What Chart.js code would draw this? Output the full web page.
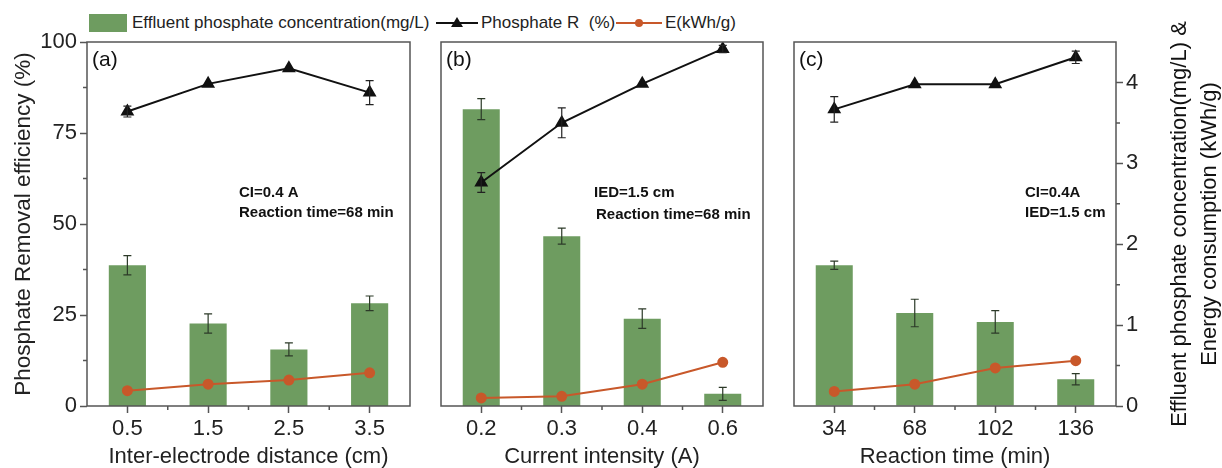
<!DOCTYPE html>
<html>
<head>
<meta charset="utf-8">
<script src="https://cdn.jsdelivr.net/npm/chart.js@4.4.0/dist/chart.umd.min.js"></script>
<style>
  body { margin: 0; background: #fff; }
  #wrap { position: relative; width: 1222px; height: 468px; overflow: hidden; font-family: "Liberation Sans", Arial, sans-serif; }
  #wrap canvas { position: absolute; top: 0; }
  .lg { position: absolute; top: 14px; height: 18px; line-height: 18px; font-size: 17px; color: #222; white-space: pre; }
  .sw { position: absolute; top: 14px; width: 38px; height: 18px; background: #6e9c60; }
  .mk { position: absolute; top: 13px; }
</style>
</head>
<body>
<div id="wrap">
  <span class="sw" style="left:89px"></span>
  <span class="lg" style="left:132px">Effluent phosphate concentration(mg/L)</span>
  <svg class="mk" style="left:436px" width="42" height="20"><line x1="0" y1="10" x2="42" y2="10" stroke="#111" stroke-width="2"/><polygon points="21,4 27,14 15,14" fill="#111"/></svg>
  <span class="lg" style="left:481px">Phosphate R  (%)</span>
  <svg class="mk" style="left:616px" width="46" height="20"><line x1="0" y1="10" x2="46" y2="10" stroke="#c8582a" stroke-width="2"/><circle cx="23" cy="10" r="4" fill="#c8582a"/></svg>
  <span class="lg" style="left:665px">E(kWh/g)</span>
  <canvas id="panelA" width="425" height="468" style="left:0px"></canvas>
  <canvas id="panelB" width="355" height="468" style="left:425px"></canvas>
  <canvas id="panelC" width="442" height="468" style="left:780px"></canvas>
</div>
<script>
// categories
const distanceLabels = ["0.5", "1.5", "2.5", "3.5"];
const currentLabels = ["0.2", "0.3", "0.4", "0.6"];
const timeLabels = ["34", "68", "102", "136"];

// (a) inter-electrode distance
const concA = [1.74, 1.02, 0.70, 1.27];
const concAErr = [0.12, 0.12, 0.08, 0.09];
const removalA = [80.9, 88.5, 92.8, 86.1];
const removalAErr = [1.5, 0, 0, 3.3];
const energyA = [0.19, 0.27, 0.32, 0.41];

// (b) current intensity
const concB = [3.67, 2.10, 1.08, 0.15];
const concBErr = [0.13, 0.10, 0.12, 0.08];
const removalB = [61.4, 77.8, 88.5, 98.1];
const removalBErr = [2.7, 4.1, 0, 1.0];
const energyB = [0.10, 0.12, 0.27, 0.54];

// (c) reaction time
const concC = [1.74, 1.15, 1.04, 0.33];
const concCErr = [0.05, 0.17, 0.14, 0.07];
const removalC = [81.5, 88.4, 88.4, 95.8];
const removalCErr = [3.5, 0, 0, 1.7];
const energyC = [0.18, 0.27, 0.47, 0.56];

// tick labels
const leftTicks = [0, 25, 50, 75, 100];
const rightTicks = [0, 1, 2, 3, 4];

const FONT = "'Liberation Sans', Arial, sans-serif";
const GREEN = "#6e9c60";
const ORANGE = "#c8582a";
const AXIS = "#555";

// error bars, frame, minor ticks and notes
const decor = {
  id: "decor",
  afterDatasetsDraw(chart) {
    const ctx = chart.ctx;
    chart.data.datasets.forEach((ds, i) => {
      if (!ds.errors) return;
      const meta = chart.getDatasetMeta(i);
      const scale = chart.scales[ds.yAxisID];
      ctx.save();
      ctx.strokeStyle = ds.errorColor;
      ctx.lineWidth = 1.2;
      meta.data.forEach((el, j) => {
        const e = ds.errors[j];
        if (!e) return;
        const top = scale.getPixelForValue(ds.data[j] + e);
        const bot = scale.getPixelForValue(ds.data[j] - e);
        ctx.beginPath();
        ctx.moveTo(el.x, top); ctx.lineTo(el.x, bot);
        ctx.moveTo(el.x - 4, top); ctx.lineTo(el.x + 4, top);
        ctx.moveTo(el.x - 4, bot); ctx.lineTo(el.x + 4, bot);
        ctx.stroke();
      });
      ctx.restore();
    });
  },
  afterDraw(chart, args, opts) {
    const ctx = chart.ctx;
    const a = chart.chartArea;
    ctx.save();
    ctx.strokeStyle = AXIS;
    ctx.lineWidth = 1.5;
    ctx.strokeRect(a.left, a.top, a.width, a.height);

    // minor ticks on x
    const xs = chart.scales.x;
    ctx.beginPath();
    for (let j = 0; j < chart.data.labels.length - 1; j++) {
      const x = (xs.getPixelForValue(j) + xs.getPixelForValue(j + 1)) / 2;
      ctx.moveTo(x, a.bottom); ctx.lineTo(x, a.bottom + 4);
    }
    if (opts.minorLeft) {
      opts.minorLeft.forEach(v => {
        const y = chart.scales.y.getPixelForValue(v);
        ctx.moveTo(a.left, y); ctx.lineTo(a.left - 4, y);
      });
    }
    if (opts.minorRight) {
      opts.minorRight.forEach(v => {
        const y = chart.scales.y1.getPixelForValue(v);
        ctx.moveTo(a.right, y); ctx.lineTo(a.right + 4, y);
      });
    }
    ctx.stroke();

    // panel label and notes
    ctx.fillStyle = "#111";
    ctx.textBaseline = "middle";
    ctx.textAlign = "left";
    ctx.font = "21px " + FONT;
    ctx.fillText(opts.tag, a.left + 5, a.top + 18);
    ctx.font = "bold 15px " + FONT;
    opts.notes.forEach(n => ctx.fillText(n.text, a.left + n.dx, a.top + n.dy));

    // right axis title, reading upwards
    if (opts.rightTitle) {
      ctx.font = "22px " + FONT;
      ctx.textAlign = "center";
      const cy = (a.top + a.bottom) / 2;
      opts.rightTitle.forEach((t, k) => {
        ctx.save();
        ctx.translate(a.right + 64 + k * 30, cy);
        ctx.rotate(-Math.PI / 2);
        ctx.fillText(t, 0, 0);
        ctx.restore();
      });
    }
    ctx.restore();
  },
};

// fixed axis sizes, only for axes that are shown
function fixWidth(w) {
  return (s) => { if (s.options.display) s.width = w; };
}

function makeConfig(labels, conc, concErr, removal, removalErr, energy, xTitle, extra) {
  return {
    type: "bar",
    data: {
      labels: labels,
      datasets: [
        {
          type: "line",
          label: "Phosphate R (%)",
          data: removal,
          errors: removalErr,
          errorColor: "#222",
          yAxisID: "y",
          borderColor: "#111",
          backgroundColor: "#111",
          borderWidth: 2,
          pointStyle: "triangle",
          pointRadius: 6,
          order: 0,
        },
        {
          type: "line",
          label: "E(kWh/g)",
          data: energy,
          yAxisID: "y1",
          borderColor: ORANGE,
          backgroundColor: ORANGE,
          borderWidth: 2,
          pointRadius: 4.5,
          order: 1,
        },
        {
          label: "Effluent phosphate concentration(mg/L)",
          data: conc,
          errors: concErr,
          errorColor: "#2c3a28",
          yAxisID: "y1",
          backgroundColor: GREEN,
          barPercentage: 0.46,
          categoryPercentage: 1,
          order: 2,
        },
      ],
    },
    options: {
      responsive: false,
      animation: false,
      layout: { padding: extra.padding },
      plugins: {
        legend: { display: false },
        tooltip: { enabled: false },
        decor: extra.decor,
      },
      scales: {
        x: {
          offset: true,
          afterFit: (s) => { s.height = 62; },
          grid: { offset: false, drawOnChartArea: false, tickLength: 7, tickColor: AXIS, tickWidth: 1.5 },
          border: { display: false },
          ticks: { color: "#222", padding: 3, maxRotation: 0, font: { family: FONT, size: 22 } },
          title: { display: true, text: xTitle, color: "#222", padding: { top: 0, bottom: 0 }, font: { family: FONT, size: 22, lineHeight: 1 } },
        },
        y: {
          position: "left",
          display: extra.showLeft,
          min: 0,
          max: 100,
          afterFit: fixWidth(87),
          grid: { drawOnChartArea: false, tickLength: 7, tickColor: AXIS, tickWidth: 1.5 },
          border: { display: false },
          ticks: { stepSize: 25, color: "#222", padding: 3, font: { family: FONT, size: 22 } },
          title: { display: true, text: "Phosphate Removal efficiency (%)", color: "#222", padding: { top: 13, bottom: 0 }, font: { family: FONT, size: 22.5, lineHeight: 1 } },
        },
        y1: {
          position: "right",
          display: extra.showRight,
          min: 0,
          max: 4.5,
          afterFit: fixWidth(106),
          grid: { drawOnChartArea: false, tickLength: 7, tickColor: AXIS, tickWidth: 1.5 },
          border: { display: false },
          ticks: { stepSize: 1, includeBounds: false, color: "#222", padding: 3, font: { family: FONT, size: 22 } },
        },
      },
    },
    plugins: [decor],
  };
}

const configA = makeConfig(distanceLabels, concA, concAErr, removalA, removalAErr, energyA,
  "Inter-electrode distance (cm)", {
    padding: { left: 0, right: 15, top: 42, bottom: 0 },
    showLeft: true,
    showRight: false,
    decor: {
      tag: "(a)",
      minorLeft: [12.5, 37.5, 62.5, 87.5],
      notes: [
        { text: "CI=0.4 A", dx: 152, dy: 151 },
        { text: "Reaction time=68 min", dx: 152, dy: 171 },
      ],
    },
  });

const configB = makeConfig(currentLabels, concB, concBErr, removalB, removalBErr, energyB,
  "Current intensity (A)", {
    padding: { left: 16, right: 17, top: 42, bottom: 0 },
    showLeft: false,
    showRight: false,
    decor: {
      tag: "(b)",
      notes: [
        { text: "IED=1.5 cm", dx: 153, dy: 151 },
        { text: "Reaction time=68 min", dx: 155, dy: 173 },
      ],
    },
  });

const configC = makeConfig(timeLabels, concC, concCErr, removalC, removalCErr, energyC,
  "Reaction time (min)", {
    padding: { left: 14, right: 0, top: 42, bottom: 0 },
    showLeft: false,
    showRight: true,
    decor: {
      tag: "(c)",
      minorRight: [0.5, 1.5, 2.5, 3.5],
      rightTitle: ["Effluent phosphate concentration(mg/L) &", "Energy consumption (kWh/g)"],
      notes: [
        { text: "CI=0.4A", dx: 231, dy: 151 },
        { text: "IED=1.5 cm", dx: 231, dy: 171 },
      ],
    },
  });

new Chart(document.getElementById("panelA"), configA);
new Chart(document.getElementById("panelB"), configB);
new Chart(document.getElementById("panelC"), configC);
</script>
</body>
</html>
